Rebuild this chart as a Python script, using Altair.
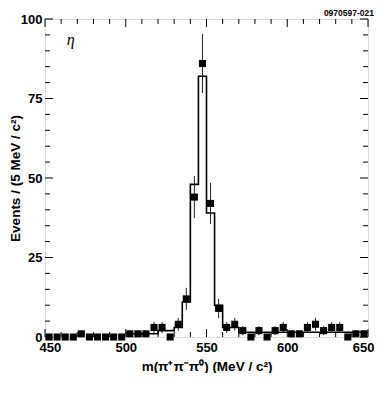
import altair as alt
import pandas as pd
import numpy as np

# --- data ---
mass = [452.5, 457.5, 462.5, 467.5, 472.5, 477.5, 482.5, 487.5, 492.5, 497.5,
        502.5, 507.5, 512.5, 517.5, 522.5, 527.5, 532.5, 537.5, 542.5, 547.5,
        552.5, 557.5, 562.5, 567.5, 572.5, 577.5, 582.5, 587.5, 592.5, 597.5,
        602.5, 607.5, 612.5, 617.5, 622.5, 627.5, 632.5, 637.5, 642.5, 647.5]
counts = [0, 0, 0, 0, 1, 0, 0, 0, 0, 0,
          1, 1, 1, 3, 3, 0, 4, 12, 44, 86,
          42, 9, 3, 4, 2, 0, 2, 0, 2, 3,
          1, 1, 3, 4, 2, 3, 3, 0, 1, 1]

hist_edges = [500, 505, 510, 515, 520, 525, 530, 535, 540, 545,
              550, 555, 560, 565, 570, 575, 580, 585, 590, 595,
              600, 605, 610, 615, 620, 625, 630, 635, 640, 645, 650]
hist_vals = [1, 1, 1, 1, 2, 2, 3, 11, 48, 82,
             39, 10, 3, 3, 1.5, 1.5, 1.5, 1.5, 1.5, 1.5,
             1.5, 1.5, 1.5, 1.5, 1.5, 1.5, 1.5, 1.5, 1.5, 1.5]

x_major = [450, 500, 550, 600, 650]
x_minor = [460, 470, 480, 490, 510, 520, 530, 540, 560, 570, 580, 590,
           610, 620, 630, 640]
y_major = [0, 25, 50, 75, 100]
y_minor = [5, 10, 15, 20, 30, 35, 40, 45, 55, 60, 65, 70, 80, 85, 90, 95]

TOTAL_W, TOTAL_H = 366, 365
PLOT_W, PLOT_H = 324, 319  # approximate, used only for tick lengths
FONT = "Liberation Sans"

pts = pd.DataFrame({"m": mass, "n": counts})
pts["lo"] = pts["n"] - np.sqrt(pts["n"])
pts["hi"] = pts["n"] + np.sqrt(pts["n"])
err_df = pts[pts["n"] > 0]

hist_df = pd.DataFrame({"e": hist_edges, "v": hist_vals + [hist_vals[-1]]})

xs = alt.Scale(domain=[450, 650], nice=False, zero=False)
ys = alt.Scale(domain=[0, 100], nice=False, zero=False)

xaxis = alt.Axis(values=x_major, format="d", ticks=False, domain=False, grid=False,
                 labelFont=FONT, labelFontSize=13, labelFontWeight="bold",
                 labelColor="black", labelPadding=4, labelFlush=True,
                 labelFlushOffset=6,
                 title="m(π⁺π⁻π⁰) (MeV / c²)", titleFont=FONT, titleFontSize=13.5,
                 titleFontWeight="bold", titleColor="black", titlePadding=5)
yaxis = alt.Axis(values=y_major, format="d", ticks=False, domain=False, grid=False,
                 labelFont=FONT, labelFontSize=13, labelFontWeight="bold",
                 labelColor="black", labelPadding=3, labelFlush=False,
                 title="Events / (5 MeV / c²)", titleFont=FONT, titleFontSize=13.5,
                 titleFontWeight="bold", titleColor="black", titlePadding=-2)


def X(f):
    return alt.X(f, type="quantitative", scale=xs, axis=xaxis)


def Y(f):
    return alt.Y(f, type="quantitative", scale=ys, axis=yaxis)


hist = alt.Chart(hist_df).mark_line(interpolate="step-after", color="black",
                                    strokeWidth=1.6).encode(x=X("e"), y=Y("v"))
err = alt.Chart(err_df).mark_rule(color="#222222", strokeWidth=1).encode(
    x=X("m"), y=Y("lo"), y2="hi")
sq = alt.Chart(pts).mark_square(size=50, color="black", opacity=1).encode(
    x=X("m"), y=Y("n"))

layers = [hist, err, sq]


def tick_rules(vals, length, axis_ch):
    d = pd.DataFrame({"v": vals})
    out = []
    if axis_ch == "x":
        dy = length * 100 / PLOT_H
        out.append(alt.Chart(d).mark_rule(color="black", strokeWidth=1).encode(
            x=X("v"), y=alt.Y(datum=0, scale=ys, axis=yaxis),
            y2=alt.Y2(datum=dy)))
        out.append(alt.Chart(d).mark_rule(color="black", strokeWidth=1).encode(
            x=X("v"), y=alt.Y(datum=100, scale=ys, axis=yaxis),
            y2=alt.Y2(datum=100 - dy)))
    else:
        dx = length * 200 / PLOT_W
        out.append(alt.Chart(d).mark_rule(color="black", strokeWidth=1).encode(
            y=Y("v"), x=alt.X(datum=450, scale=xs, axis=xaxis),
            x2=alt.X2(datum=450 + dx)))
        out.append(alt.Chart(d).mark_rule(color="black", strokeWidth=1).encode(
            y=Y("v"), x=alt.X(datum=650, scale=xs, axis=xaxis),
            x2=alt.X2(datum=650 - dx)))
    return out


layers += (tick_rules(x_major, 8, "x") + tick_rules(x_minor, 5, "x")
           + tick_rules(y_major, 8, "y") + tick_rules(y_minor, 5, "y"))

lab = pd.DataFrame({"x": [466], "y": [93.5], "t": ["η"]})
eta = alt.Chart(lab).mark_text(font="Liberation Serif", fontStyle="italic",
                               fontSize=16, color="black", align="center",
                               baseline="middle").encode(
    x=X("x"), y=Y("y"), text="t:N")
layers.append(eta)

chart = alt.layer(*layers).properties(
    width=TOTAL_W, height=TOTAL_H,
    autosize=alt.AutoSizeParams(type="fit", contains="padding"),
    padding={"left": 0, "top": 0, "right": 0, "bottom": 0},
    title=alt.TitleParams("0970597-021", anchor="end", fontSize=8.5,
                          fontWeight="bold", font=FONT, color="black",
                          offset=-4),
).configure_view(stroke="black", strokeWidth=2).configure(background="white")

chart.save("out.html", embed_options={"renderer": "svg", "actions": False})
